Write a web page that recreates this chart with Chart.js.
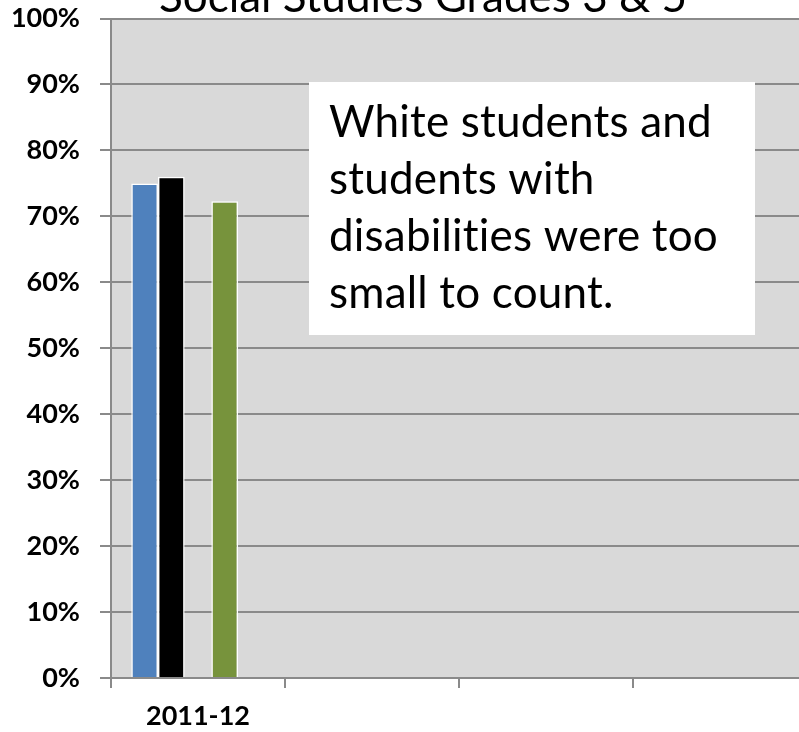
<!DOCTYPE html>
<html>
<head>
<meta charset="utf-8">
<script src="https://cdn.jsdelivr.net/npm/chart.js@4.4.1/dist/chart.umd.min.js"></script>
<style>
  html, body { margin: 0; padding: 0; background: #fff; overflow: hidden; }
  #wrap { position: relative; width: 830px; height: 732px; }
</style>
</head>
<body>
<div id="wrap"><canvas id="chart" width="830" height="732"></canvas></div>
<script>
// Anni scolastici (solo il primo ha dati) e percentuali per gruppo
const years = ["2011-12", "", "", ""];
const allStudents = [75, null, null, null];
const blackStudents = [76, null, null, null];
const whiteStudents = [null, null, null, null];
const econDisadv = [72.3, null, null, null];
const disabilities = [null, null, null, null];
const yTicks = [0, 10, 20, 30, 40, 50, 60, 70, 80, 90, 100];

const titleText = "Social Studies Grades 3 & 5";
const noteLines = ["White students and", "students with", "disabilities were too", "small to count."];

const GRID = "#8a8a8a";

// sfondo grigio dell'area del grafico
const plotBg = {
  id: "plotBg",
  beforeDraw(chart) {
    const { ctx, chartArea: a } = chart;
    ctx.save();
    ctx.fillStyle = "#d9d9d9";
    ctx.fillRect(a.left, a.top, a.right - a.left, a.bottom - a.top);
    ctx.restore();
  }
};

// titolo (tagliato in alto) e riquadro con la nota
const extras = {
  id: "extras",
  afterDraw(chart) {
    const ctx = chart.ctx;
    ctx.save();
    ctx.fillStyle = "#000";
    ctx.font = "44px Lato";
    ctx.textAlign = "center";
    ctx.textBaseline = "alphabetic";
    ctx.fillText(titleText, 423, 12);

    ctx.fillStyle = "#fff";
    ctx.fillRect(309, 82, 446, 253);
    ctx.fillStyle = "#000";
    ctx.font = "44px Lato";
    ctx.letterSpacing = "0.2px"; // niente legatura "ti"
    ctx.textAlign = "left";
    noteLines.forEach((line, i) => ctx.fillText(line, 329, 137 + i * 57));
    ctx.restore();
  }
};

const mkSet = (label, data, color) => ({
  label, data,
  backgroundColor: color,
  borderColor: "#ffffff",
  borderWidth: 1.5,
  borderSkipped: "bottom",
  categoryPercentage: 0.767,
  barPercentage: 1.0
});

new Chart(document.getElementById("chart"), {
  type: "bar",
  data: {
    labels: years,
    datasets: [
      mkSet("All Students", allStudents, "#4f81bd"),
      mkSet("Black Students", blackStudents, "#000000"),
      mkSet("White Students", whiteStudents, "#c0c0c0"),
      mkSet("Economically Disadvantaged", econDisadv, "#77933c"),
      mkSet("Students with Disabilities", disabilities, "#8064a2")
    ]
  },
  options: {
    responsive: false,
    animation: false,
    devicePixelRatio: 1,
    layout: { padding: { top: 18.5, right: 23, left: 0, bottom: 0 } },
    plugins: {
      legend: { display: false },
      tooltip: { enabled: false }
    },
    scales: {
      x: {
        offset: true,
        grid: { offset: true, drawOnChartArea: false, color: GRID, lineWidth: 2, tickLength: 10 },
        border: { color: GRID, width: 2 },
        ticks: { color: "#000", font: { family: "Lato", size: 27, weight: "bold" }, padding: 12, maxRotation: 0 },
        afterFit(s) { s.height = 54; s.paddingLeft = 0; s.paddingRight = 0; }
      },
      y: {
        min: 0, max: 100,
        afterBuildTicks(s) { s.ticks = yTicks.map(v => ({ value: v })); },
        grid: { color: GRID, lineWidth: 2, tickLength: 11 },
        border: { color: GRID, width: 2 },
        ticks: {
          color: "#000",
          font: { family: "Lato", size: 27, weight: "bold" },
          padding: 20,
          callback: v => v + "%"
        },
        afterFit(s) { s.width = 111; s.paddingTop = 0; s.paddingBottom = 0; }
      }
    }
  },
  plugins: [plotBg, extras]
});
</script>
</body>
</html>
